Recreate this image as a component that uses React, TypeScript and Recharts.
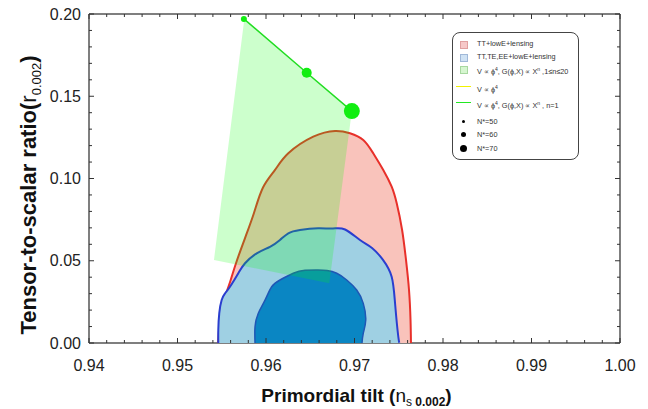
import React from "react";
import { ComposedChart, Scatter, XAxis, YAxis, Legend } from "recharts";

// tick positions
const xTicks = [
  0.94, 0.942, 0.944, 0.946, 0.948, 0.95, 0.952, 0.954, 0.956, 0.958, 0.96,
  0.962, 0.964, 0.966, 0.968, 0.97, 0.972, 0.974, 0.976, 0.978, 0.98, 0.982,
  0.984, 0.986, 0.988, 0.99, 0.992, 0.994, 0.996, 0.998, 1.0,
];
const yTicks = [
  0, 0.01, 0.02, 0.03, 0.04, 0.05, 0.06, 0.07, 0.08, 0.09, 0.1, 0.11, 0.12,
  0.13, 0.14, 0.15, 0.16, 0.17, 0.18, 0.19, 0.2,
];

// TT+lowE+lensing, 95% contour
const ttContour = [
  { ns: 0.95458, r: 0 },
  { ns: 0.95469, r: 0.0079 },
  { ns: 0.95488, r: 0.0182 },
  { ns: 0.95537, r: 0.0281 },
  { ns: 0.95601, r: 0.0383 },
  { ns: 0.95661, r: 0.0485 },
  { ns: 0.95763, r: 0.0638 },
  { ns: 0.95864, r: 0.079 },
  { ns: 0.95966, r: 0.0945 },
  { ns: 0.96102, r: 0.1052 },
  { ns: 0.96252, r: 0.1153 },
  { ns: 0.96534, r: 0.1254 },
  { ns: 0.9678, r: 0.1289 },
  { ns: 0.96949, r: 0.1275 },
  { ns: 0.97099, r: 0.1234 },
  { ns: 0.97212, r: 0.1153 },
  { ns: 0.97325, r: 0.1052 },
  { ns: 0.9742, r: 0.095 },
  { ns: 0.97477, r: 0.0849 },
  { ns: 0.97537, r: 0.069 },
  { ns: 0.97582, r: 0.0505 },
  { ns: 0.97616, r: 0.0322 },
  { ns: 0.97633, r: 0.014 },
  { ns: 0.97638, r: 0 },
];

// TT,TE,EE+lowE+lensing, 95% contour
const tteeOuter = [
  { ns: 0.95461, r: 0 },
  { ns: 0.95461, r: 0.0079 },
  { ns: 0.95472, r: 0.0181 },
  { ns: 0.95499, r: 0.0261 },
  { ns: 0.95537, r: 0.0302 },
  { ns: 0.95593, r: 0.0342 },
  { ns: 0.95687, r: 0.0424 },
  { ns: 0.95763, r: 0.0485 },
  { ns: 0.95895, r: 0.0545 },
  { ns: 0.96045, r: 0.0585 },
  { ns: 0.96158, r: 0.0626 },
  { ns: 0.96252, r: 0.0667 },
  { ns: 0.96384, r: 0.0687 },
  { ns: 0.96588, r: 0.0697 },
  { ns: 0.96757, r: 0.0696 },
  { ns: 0.96893, r: 0.069 },
  { ns: 0.97062, r: 0.0626 },
  { ns: 0.97198, r: 0.0578 },
  { ns: 0.97322, r: 0.0505 },
  { ns: 0.9742, r: 0.0403 },
  { ns: 0.97458, r: 0.0243 },
  { ns: 0.97495, r: 0.0038 },
  { ns: 0.97514, r: 0 },
];

// TT,TE,EE+lowE+lensing, 68% contour
const tteeInner = [
  { ns: 0.95876, r: 0 },
  { ns: 0.95876, r: 0.0099 },
  { ns: 0.95913, r: 0.0181 },
  { ns: 0.95989, r: 0.0261 },
  { ns: 0.96064, r: 0.0342 },
  { ns: 0.96158, r: 0.0383 },
  { ns: 0.96308, r: 0.0424 },
  { ns: 0.96441, r: 0.0442 },
  { ns: 0.96588, r: 0.0444 },
  { ns: 0.96689, r: 0.0441 },
  { ns: 0.96799, r: 0.0424 },
  { ns: 0.96912, r: 0.0383 },
  { ns: 0.97025, r: 0.0322 },
  { ns: 0.97099, r: 0.0241 },
  { ns: 0.97127, r: 0.014 },
  { ns: 0.97099, r: 0.0059 },
  { ns: 0.97085, r: 0 },
];

// V ∝ ϕ^4, G ∝ X^n, 1 ≤ n ≤ 20 band
const gBand = [
  { ns: 0.95755, r: 0.197 },
  { ns: 0.9646, r: 0.1643 },
  { ns: 0.9697, r: 0.141 },
  { ns: 0.96715, r: 0.0363 },
  { ns: 0.95412, r: 0.0505 },
];

// n = 1 prediction for N* = 50, 60, 70
const nOnePoints = [
  { ns: 0.9575, r: 0.197, efolds: 50 },
  { ns: 0.9646, r: 0.1643, efolds: 60 },
  { ns: 0.9697, r: 0.141, efolds: 70 },
];

const FONT = '"Liberation Sans", Arial, Helvetica, sans-serif';
const AXIS = "#555";
const dotRadius: Record<number, number> = { 50: 3, 60: 5, 70: 8 };

const isMajorX = (v: number) => Math.abs(v * 100 - Math.round(v * 100)) < 1e-6;
const isMajorY = (v: number) => Math.abs(v * 20 - Math.round(v * 20)) < 1e-6;

const BottomTick = (props: any) => {
  const { x, y, payload } = props;
  const major = isMajorX(payload.value);
  return (
    <g>
      <line x1={x} x2={x} y1={y} y2={y - (major ? 5 : 3)} stroke="#333" />
      {major && (
        <text x={x} y={y + 28} textAnchor="middle" fontSize={16} fill="#222" fontFamily={FONT}>
          {payload.value.toFixed(2)}
        </text>
      )}
    </g>
  );
};

const TopTick = (props: any) => {
  const { x, y, payload } = props;
  const major = isMajorX(payload.value);
  return <line x1={x} x2={x} y1={y} y2={y + (major ? 5 : 3)} stroke="#333" />;
};

const LeftTick = (props: any) => {
  const { x, y, payload } = props;
  const major = isMajorY(payload.value);
  return (
    <g>
      <line x1={x} x2={x + (major ? 5 : 3)} y1={y} y2={y} stroke="#333" />
      {major && (
        <text x={x - 8} y={y} textAnchor="end" dominantBaseline="central" fontSize={16} fill="#222" fontFamily={FONT}>
          {payload.value.toFixed(2)}
        </text>
      )}
    </g>
  );
};

const RightTick = (props: any) => {
  const { x, y, payload } = props;
  const major = isMajorY(payload.value);
  return <line x1={x} x2={x - (major ? 5 : 3)} y1={y} y2={y} stroke="#333" />;
};

const XTitle = (props: any) => {
  const { x, y, width } = props.viewBox;
  return (
    <text x={x + width / 2 + 2} y={y + 59} textAnchor="middle" fontFamily={FONT} fontSize={19} fontWeight="bold" fill="#111">
      Primordial tilt (
      <tspan fontWeight="normal">n</tspan>
      <tspan fontWeight="normal" fontSize={12} dy={4}>s</tspan>
      <tspan fontSize={12}> 0.002</tspan>
      <tspan dy={-4}>)</tspan>
    </text>
  );
};

const YTitle = () => (
  <text transform="translate(36, 195) rotate(-90)" textAnchor="middle" fontFamily={FONT} fontSize={22} fontWeight="bold" fill="#111">
    Tensor-to-scalar ratio(
    <tspan fontWeight="normal">r</tspan>
    <tspan fontWeight="normal" fontSize={13} dy={5}>0.002</tspan>
    <tspan dy={-5}>)</tspan>
  </text>
);

const Phi4 = () => (
  <>
    V ∝ ϕ<sup style={{ fontSize: 5 }}>4</sup>
  </>
);

const legendRows = [
  { kind: "box", color: "#f6c8c8", edge: "#e0a0a0", top: 10.5, label: <>TT+lowE+lensing</> },
  { kind: "box", color: "#cfe2f4", edge: "#a0b8d8", top: 23.5, label: <>TT,TE,EE+lowE+lensing</> },
  {
    kind: "box", color: "#d6f6d0", edge: "#a8d8a0", top: 35.5,
    label: <><Phi4 />, G(ϕ,X) ∝ X<sup style={{ fontSize: 5 }}>n</sup> ,1≤n≤20</>,
  },
  { kind: "line", color: "#f2f200", edge: "", top: 53.5, label: <Phi4 /> },
  {
    kind: "line", color: "#22e822", edge: "", top: 69.5,
    label: <><Phi4 />, G(ϕ,X) ∝ X<sup style={{ fontSize: 5 }}>n</sup> , n=1</>,
  },
  { kind: "dot", size: 3, color: "#000", edge: "", top: 88.5, label: <>N*=50</> },
  { kind: "dot", size: 5, color: "#000", edge: "", top: 101.5, label: <>N*=60</> },
  { kind: "dot", size: 7, color: "#000", edge: "", top: 115.5, label: <>N*=70</> },
];

const LegendBox = () => (
  <div
    style={{
      position: "relative", width: 127, height: 128, boxSizing: "border-box",
      border: "1.5px solid #444", borderRadius: 8, background: "#fff",
      fontFamily: FONT, fontSize: 7.3, color: "#333",
    }}
  >
    {legendRows.map((row, i) => (
      <div key={i} style={{ position: "absolute", left: 0, top: row.top, height: 0, width: "100%" }}>
        {row.kind === "box" && (
          <div style={{ position: "absolute", left: 7, top: -3, width: 6, height: 6, background: row.color, border: `0.5px solid ${row.edge}` }} />
        )}
        {row.kind === "line" && (
          <div style={{ position: "absolute", left: 3, top: -1, width: 15, height: 1.5, background: row.color }} />
        )}
        {row.kind === "dot" && (
          <div
            style={{
              position: "absolute", left: 10 - (row as any).size / 2, top: -(row as any).size / 2,
              width: (row as any).size, height: (row as any).size, borderRadius: "50%", background: row.color,
            }}
          />
        )}
        <div style={{ position: "absolute", left: 24, top: -5, whiteSpace: "nowrap", lineHeight: "10px" }}>{row.label}</div>
      </div>
    ))}
  </div>
);

const NDot = (props: any) => {
  const { cx, cy, payload } = props;
  return <circle cx={cx} cy={cy} r={dotRadius[payload.efolds]} fill="#11ee11" />;
};

const noSymbol = () => <g />;

export default function App() {
  return (
    <div style={{ position: "absolute", left: 0, top: 0, width: 648, height: 409, background: "#fff" }}>
      <ComposedChart width={648} height={409} margin={{ top: 0, right: 0, bottom: 0, left: 0 }}>
        <XAxis
          xAxisId="b" type="number" dataKey="ns" domain={[0.94, 1]} allowDataOverflow
          ticks={xTicks} interval={0} height={66} tickSize={0} tickMargin={0} tickLine={false}
          tick={<BottomTick />} axisLine={{ stroke: AXIS, strokeWidth: 1.5 }}
          label={<XTitle />}
        />
        <XAxis
          xAxisId="t" orientation="top" type="number" dataKey="ns" domain={[0.94, 1]} allowDataOverflow
          ticks={xTicks} interval={0} height={14} tickSize={0} tickMargin={0} tickLine={false}
          tick={<TopTick />} axisLine={{ stroke: AXIS, strokeWidth: 1.5 }}
        />
        <YAxis
          yAxisId="l" type="number" dataKey="r" domain={[0, 0.2]} allowDataOverflow
          ticks={yTicks} interval={0} width={89} tickSize={0} tickMargin={0} tickLine={false}
          tick={<LeftTick />} axisLine={{ stroke: AXIS, strokeWidth: 1.5 }}
          label={<YTitle />}
        />
        <YAxis
          yAxisId="r" orientation="right" type="number" dataKey="r" domain={[0, 0.2]} allowDataOverflow
          ticks={yTicks} interval={0} width={28} tickSize={0} tickMargin={0} tickLine={false}
          tick={<RightTick />} axisLine={{ stroke: AXIS, strokeWidth: 1.5 }}
        />
        <Legend
          layout="vertical" align="center" verticalAlign="middle"
          content={<LegendBox />}
          wrapperStyle={{ left: 452, top: 32, width: 127, height: 128 }}
        />
        <Scatter
          xAxisId="b" yAxisId="l" data={ttContour} shape={noSymbol} legendType="none" isAnimationActive={false}
          lineJointType="natural"
          fill="#e8302a" line={{ fill: "#f9c3bb", stroke: "#e8302a", strokeWidth: 2 }}
        />
        <Scatter
          xAxisId="b" yAxisId="l" data={tteeOuter} shape={noSymbol} legendType="none" isAnimationActive={false}
          lineJointType="natural"
          fill="#2a3ecf" line={{ fill: "#9fd0e3", stroke: "#2a3ecf", strokeWidth: 2 }}
        />
        <Scatter
          xAxisId="b" yAxisId="l" data={tteeInner} shape={noSymbol} legendType="none" isAnimationActive={false}
          lineJointType="natural"
          fill="#1f57b5" line={{ fill: "#0a86c3", stroke: "#1f57b5", strokeWidth: 1.5 }}
        />
        <Scatter
          xAxisId="b" yAxisId="l" data={gBand} shape={noSymbol} legendType="none" isAnimationActive={false}
          fill="#00ff00" line={{ fill: "rgba(0,255,0,0.2)", stroke: "none" }}
        />
        <Scatter
          xAxisId="b" yAxisId="l" data={nOnePoints} shape={<NDot />} legendType="none" isAnimationActive={false}
          fill="#11ee11" line={{ stroke: "#22dd22", strokeWidth: 1.5 }}
        />
      </ComposedChart>
    </div>
  );
}
